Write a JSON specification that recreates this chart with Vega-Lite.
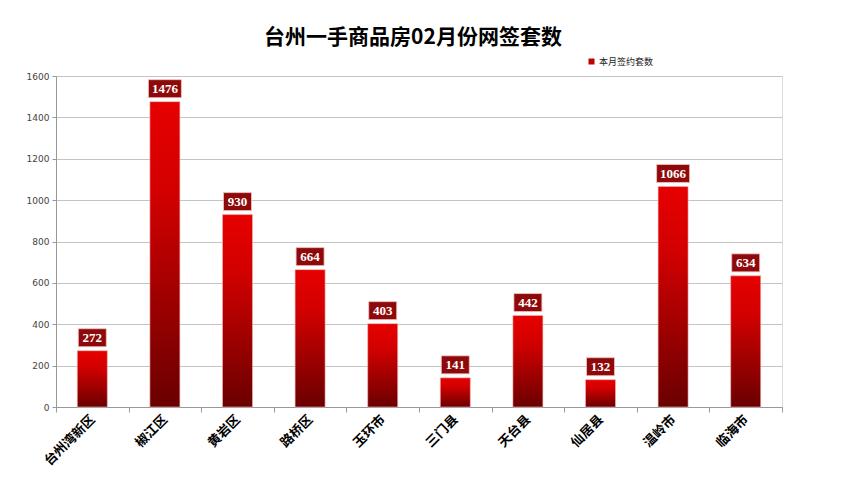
{
  "$schema": "https://vega.github.io/schema/vega-lite/v6.json",
  "width": 726,
  "height": 331,
  "autosize": {"type": "none"},
  "padding": {"top": 76, "left": 56, "right": 68, "bottom": 86},
  "background": "white",
  "title": {
    "text": "台州一手商品房02月份网签套数",
    "font": "Noto Sans CJK SC",
    "fontSize": 21,
    "fontWeight": "bold",
    "color": "#000000",
    "anchor": "middle",
    "frame": "group",
    "offset": -2,
    "baseline": "middle",
    "dx": -6
  },
  "data": {
    "values": [
      {"area": "台州湾新区", "value": 272},
      {"area": "椒江区", "value": 1476},
      {"area": "黄岩区", "value": 930},
      {"area": "路桥区", "value": 664},
      {"area": "玉环市", "value": 403},
      {"area": "三门县", "value": 141},
      {"area": "天台县", "value": 442},
      {"area": "仙居县", "value": 132},
      {"area": "温岭市", "value": 1066},
      {"area": "临海市", "value": 634}
    ]
  },
  "encoding": {
    "x": {
      "field": "area",
      "type": "nominal",
      "sort": null,
      "scale": {"paddingInner": 0, "paddingOuter": 0},
      "axis": {
        "title": null,
        "labelAngle": -45,
        "labelAlign": "right",
        "labelBaseline": "middle",
        "labelFont": "Noto Sans CJK SC",
        "labelFontWeight": "bold",
        "labelFontSize": 13,
        "labelColor": "#000000",
        "labelPadding": 5,
        "tickBand": "extent",
        "tickSize": 5,
        "tickColor": "#999999",
        "domainColor": "#999999",
        "grid": false
      }
    },
    "y": {
      "field": "value",
      "type": "quantitative",
      "scale": {"domain": [0, 1600]},
      "axis": {
        "title": null,
        "values": [0, 200, 400, 600, 800, 1000, 1200, 1400, 1600],
        "format": "d",
        "labelFont": "DejaVu Sans",
        "labelFontSize": 9,
        "labelColor": "#444444",
        "labelPadding": 3,
        "tickSize": 4,
        "tickColor": "#999999",
        "domainColor": "#999999",
        "gridColor": "#c4c4c4",
        "gridWidth": 1
      }
    }
  },
  "layer": [
    {
      "mark": {
        "type": "bar",
        "width": 30,
        "stroke": "#f3b5b5",
        "strokeWidth": 0.6,
        "fill": {
          "gradient": "linear",
          "x1": 0, "y1": 0, "x2": 0, "y2": 1,
          "stops": [
            {"offset": 0, "color": "#e60000"},
            {"offset": 0.3, "color": "#d20000"},
            {"offset": 1, "color": "#6a0000"}
          ]
        }
      }
    },
    {
      "mark": {
        "type": "point",
        "filled": true,
        "fill": "#8e0a0a",
        "stroke": "#f2c4c4",
        "strokeWidth": 0.8,
        "opacity": 1,
        "yOffset": -13
      },
      "encoding": {
        "shape": {
          "condition": {"test": "datum.value >= 1000", "value": "M-1,-0.545H1V0.545H-1Z"},
          "value": "M-1,-0.643H1V0.643H-1Z"
        },
        "size": {
          "condition": {"test": "datum.value >= 1000", "value": 1089},
          "value": 784
        }
      }
    },
    {
      "mark": {
        "type": "text",
        "font": "Liberation Serif",
        "fontSize": 13,
        "fontWeight": "bold",
        "color": "#ffffff",
        "baseline": "middle",
        "yOffset": -12.5
      },
      "encoding": {
        "text": {"field": "value", "type": "quantitative"}
      }
    },
    {
      "mark": {"type": "point", "shape": "square", "filled": true, "opacity": 0},
      "encoding": {
        "color": {
          "datum": "本月签约套数",
          "scale": {"range": ["#c00000"]},
          "legend": {
            "title": null,
            "orient": "none",
            "legendX": 531,
            "legendY": -19,
            "symbolType": "square",
            "symbolSize": 36,
            "symbolOpacity": 1,
            "symbolStrokeWidth": 0,
            "labelFont": "Noto Sans CJK SC",
            "labelFontSize": 9,
            "labelColor": "#222222",
            "labelOffset": 3
          }
        }
      }
    }
  ]
}
